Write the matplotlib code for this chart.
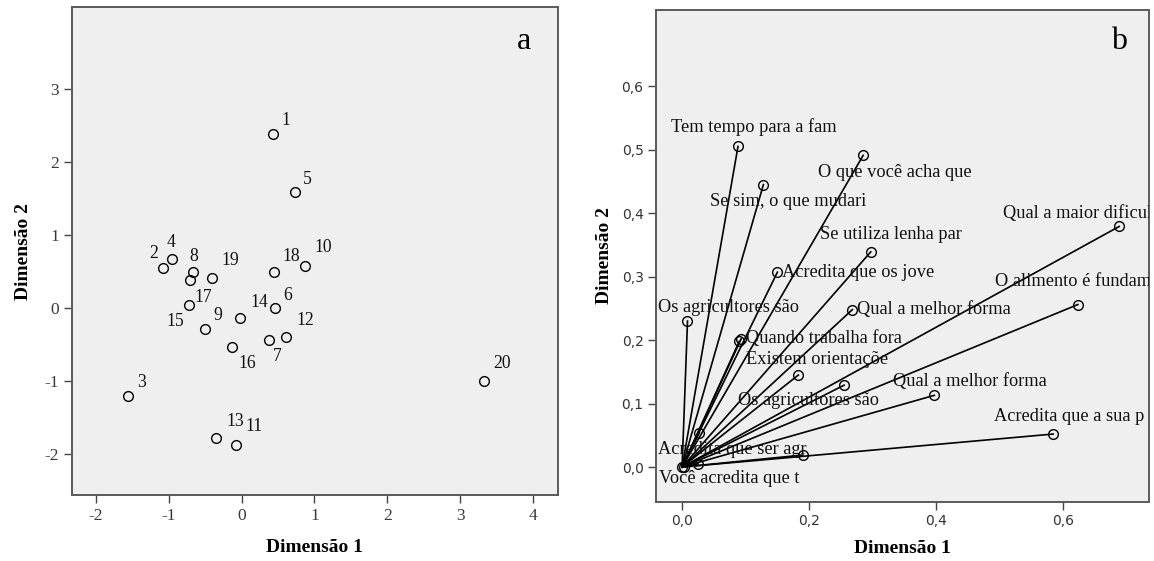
import matplotlib
matplotlib.use("Agg")
import matplotlib.pyplot as plt
from matplotlib.ticker import FuncFormatter

plt.rcParams["axes.unicode_minus"] = False

# --- painel a: objetos (casos) ---
obj_ids = [str(i) for i in range(1, 21)]
obj_x = [0.43, -1.08, -1.56, -0.96, 0.73, 0.46, 0.37, -0.66, -0.50, 0.87,
         -0.07, 0.61, -0.35, -0.02, -0.72, -0.13, -0.71, 0.44, -0.40, 3.33]
obj_y = [2.39, 0.55, -1.20, 0.67, 1.59, 0.00, -0.44, 0.49, -0.29, 0.58,
         -1.87, -0.40, -1.78, -0.14, 0.04, -0.53, 0.38, 0.49, 0.41, -1.00]

# --- painel b: variáveis (vetores a partir da origem) ---
var_names = ["Tem tempo para a fam", "O que você acha que", "Se sim, o que mudari",
             "Qual a maior dificul", "Se utiliza lenha par", "Acredita que os jove",
             "O alimento é fundam", "Qual a melhor forma", "Os agricultores são",
             "Quando trabalha fora", "Existem orientaçõe", "Os agricultores são",
             "Qual a melhor forma", "Acredita que a sua p", "Acredita que ser agr",
             "Você acredita que t", "", "", "", ""]
var_x = [0.088, 0.285, 0.128, 0.688, 0.297, 0.150, 0.623, 0.268, 0.0085, 0.093,
         0.183, 0.255, 0.397, 0.584, 0.027, 0.0, 0.190, 0.025, 0.090, 0.003]
var_y = [0.505, 0.491, 0.445, 0.379, 0.339, 0.307, 0.256, 0.248, 0.230, 0.202,
         0.145, 0.129, 0.113, 0.052, 0.054, 0.0, 0.019, 0.005, 0.198, 0.0]

# deslocamento dos rótulos (pixels)
obj_off = {"1": (13, 13), "2": (-9, 14), "3": (14, 13), "4": (0, 17), "5": (13, 13),
           "6": (13, 13), "7": (9, -16), "8": (0, 16), "9": (13, 14), "10": (18, 18),
           "11": (18, 18), "12": (19, 17), "13": (19, 17), "14": (19, 16), "15": (-14, -16),
           "16": (15, -17), "17": (14, -17), "18": (18, 16), "19": (18, 18), "20": (18, 18)}
var_off = [(-67, 19), (-45, -17), (-53, -17), (-116, 13), (-51, 17), (5, 0),
           (-83, 23), (5, 0), (-29, 14), (5, 0), (-52, 16), (-106, -15),
           (-41, 14), (-59, 18), (-41, -17), (-23, -11), None, None, None, None]

SERIF = "Liberation Serif"
BG = "#EFEFEF"
FRAME = "#5a5a5a"

fig = plt.figure(figsize=(11.54, 5.61), dpi=100)
ax1 = fig.add_axes([0.0621, 0.1176, 0.4214, 0.8693])
ax2 = fig.add_axes([0.5685, 0.1052, 0.4272, 0.8770])


def style_axes(ax):
    ax.set_facecolor(BG)
    for sp in ax.spines.values():
        sp.set_color(FRAME)
        sp.set_linewidth(1.4)
    ax.tick_params(direction="out", length=6, width=1, color="#444444", pad=3)


# painel a
style_axes(ax1)
ax1.plot(obj_x, obj_y, "o", ms=7, mfc="none", mec="black", mew=1.0, ls="none")
for name, x, y in zip(obj_ids, obj_x, obj_y):
    dx, dy = obj_off[name]
    ax1.annotate(name, (x, y), xytext=(dx, dy), textcoords="offset pixels",
                 ha="center", va="center", fontsize=12.7, family=SERIF, color="#111111")
ax1.set_xlim(-2.33, 4.34)
ax1.set_ylim(-2.56, 4.12)
ax1.set_xticks(range(-2, 5))
ax1.set_yticks(range(-2, 4))
for lab in ax1.get_xticklabels() + ax1.get_yticklabels():
    lab.set_family(SERIF)
    lab.set_fontsize(12.5)
    lab.set_color("#3a3a3a")
ax1.set_xlabel("Dimensão 1", family=SERIF, fontsize=14, fontweight="bold", labelpad=11)
ax1.set_ylabel("Dimensão 2", family=SERIF, fontsize=14, fontweight="bold", labelpad=9)
ax1.text(0.93, 0.93, "a", transform=ax1.transAxes, family=SERIF, fontsize=23,
         ha="center", va="center")

# painel b
style_axes(ax2)
for x, y in zip(var_x, var_y):
    ax2.plot([0, x], [0, y], color="black", lw=1.2, zorder=2)
ax2.plot(var_x, var_y, "o", ms=7, mfc="none", mec="black", mew=1.0, ls="none", zorder=3)
for name, x, y, off in zip(var_names, var_x, var_y, var_off):
    if not name:
        continue
    ax2.annotate(name, (x, y), xytext=off, textcoords="offset pixels",
                 ha="left", va="center", fontsize=13.2, family=SERIF,
                 color="#111111", clip_on=True, zorder=4)
ax2.set_xlim(-0.041, 0.735)
ax2.set_ylim(-0.055, 0.720)
ax2.set_xticks([0.0, 0.2, 0.4, 0.6])
ax2.set_yticks([0.0, 0.1, 0.2, 0.3, 0.4, 0.5, 0.6])
comma = FuncFormatter(lambda v, p: f"{v:.1f}".replace(".", ","))
ax2.xaxis.set_major_formatter(comma)
ax2.yaxis.set_major_formatter(comma)
for lab in ax2.get_xticklabels() + ax2.get_yticklabels():
    lab.set_family("DejaVu Sans")
    lab.set_fontsize(10)
    lab.set_color("#333333")
ax2.set_xlabel("Dimensão 1", family=SERIF, fontsize=14, fontweight="bold", labelpad=8)
ax2.set_ylabel("Dimensão 2", family=SERIF, fontsize=14, fontweight="bold", labelpad=6)
ax2.text(0.94, 0.935, "b", transform=ax2.transAxes, family=SERIF, fontsize=23,
         ha="center", va="center")

fig.savefig("out.png", dpi=100, facecolor="white")
